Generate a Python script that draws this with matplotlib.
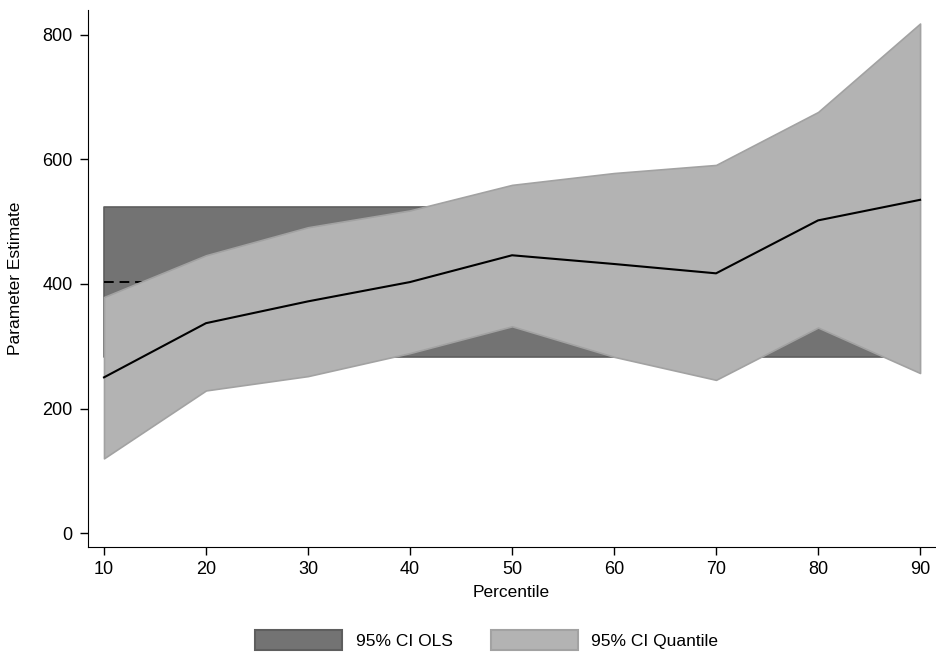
import numpy as np
import matplotlib
matplotlib.use("Agg")
import matplotlib.pyplot as plt
from matplotlib.patches import Patch

plt.rcParams['font.family'] = ['Liberation Sans', 'DejaVu Sans']

# data
percentile = [10, 20, 30, 40, 50, 60, 70, 80, 90]
qr_est = [250, 337, 372, 403, 446, 432, 417, 502, 535]
qr_lo = [120, 229, 252, 289, 332, 283, 246, 330, 257]
qr_hi = [379, 446, 491, 518, 559, 578, 591, 676, 818]
ols_est = 403
ols_lo = 283
ols_hi = 523

fig = plt.figure(figsize=(9.36, 6.56), dpi=100)
ax = fig.add_axes([0.094, 0.166, 0.905, 0.819])

x = np.array(percentile)
# OLS band (flat) and estimate
ax.fill_between(x, ols_lo, ols_hi, facecolor='#737373', edgecolor='#5e5e5e', linewidth=1.2, zorder=1)
ax.plot(x, [ols_est] * len(x), color='black', linestyle=(0, (5, 3)), linewidth=1.4, zorder=2)
# quantile band and estimate
ax.fill_between(x, qr_lo, qr_hi, facecolor='#b3b3b3', edgecolor='#a2a2a2', linewidth=1.2, zorder=3)
ax.plot(x, qr_est, color='black', linewidth=1.5, zorder=4)

ax.set_xlim(8.43, 91.47)
ax.set_ylim(-22.5, 840)
ax.set_xticks(percentile)
ax.set_yticks([0, 200, 400, 600, 800])
ax.spines['top'].set_visible(False)
ax.spines['right'].set_visible(False)
ax.tick_params(labelsize=13, length=6, width=1)
ax.tick_params(axis='y', pad=5)
ax.tick_params(axis='x', pad=4)
ax.set_xlabel('Percentile', fontsize=12.5, labelpad=5)
ax.set_ylabel('Parameter Estimate', fontsize=12.5, labelpad=14)

handles = [Patch(facecolor='#737373', edgecolor='#5e5e5e', linewidth=1.5),
           Patch(facecolor='#b3b3b3', edgecolor='#a2a2a2', linewidth=1.5)]
fig.legend(handles, ['95% CI OLS', '95% CI Quantile'], loc='center',
           bbox_to_anchor=(0.52, 0.024), ncol=2, frameon=False, fontsize=12.5,
           handlelength=5.0, handleheight=1.4, columnspacing=2.2, handletextpad=0.8,
           borderpad=0)

fig.savefig('out.png', dpi=100)
